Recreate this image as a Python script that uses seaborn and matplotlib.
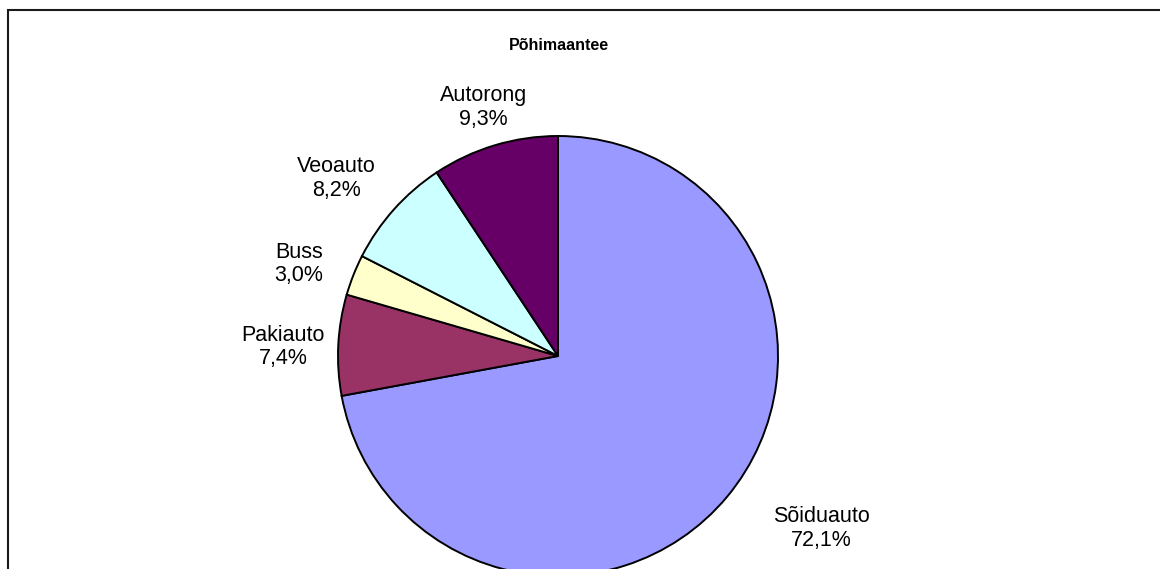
import numpy as np
import matplotlib
matplotlib.use("Agg")
import matplotlib.pyplot as plt
import matplotlib.patches as mpatches
import seaborn as sns

# Data
categories = ['Sõiduauto', 'Pakiauto', 'Buss', 'Veoauto', 'Autorong']
shares = [72.1, 7.4, 3.0, 8.2, 9.3]
colors = ['#9999FF', '#993366', '#FFFFCC', '#CCFFFF', '#660066']
title = 'Põhimaantee'

# label placement (radius units, angle nudge in degrees)
label_dist = [1.43, 1.25, 1.25, 1.29, 1.18]
label_nudge = [6.5, 1, 2, 3, 0]

sns.set_theme(style='white')
plt.rcParams['font.family'] = ['Liberation Sans', 'DejaVu Sans']
plt.rcParams['text.color'] = 'black'

W, H = 1160, 569
fig = plt.figure(figsize=(W / 100, H / 100), dpi=100)
fig.patch.set_facecolor('white')

# pie box: centre (558, 356) px, radius 220 px
cx, cy, r = 558, 356, 220
ax = fig.add_axes([(cx - r) / W, (H - cy - r) / H, 2 * r / W, 2 * r / H])

wedges, _ = ax.pie(shares, colors=colors, startangle=90, counterclock=False,
                   wedgeprops=dict(edgecolor='black', linewidth=1.4))
ax.set_xlim(-1, 1)
ax.set_ylim(-1, 1)
ax.set_aspect('auto')
ax.axis('off')

for w, name, val, d, nudge in zip(wedges, categories, shares, label_dist, label_nudge):
    ang = np.deg2rad((w.theta1 + w.theta2) / 2 + nudge)
    txt = f"{name}\n{val:.1f}%".replace('.', ',')
    ax.text(d * np.cos(ang), d * np.sin(ang), txt, ha='center', va='center',
            fontsize=15.5, linespacing=1.15, color='black', clip_on=False)

fig.text(559 / W, 1 - 46 / H, title, ha='center', va='center',
         fontsize=11.5, fontweight='bold', color='black')

# chart area border (cut off at right and bottom)
fig.patches.append(mpatches.Rectangle((8 / W, -1), 2, 1 + (H - 10) / H, fill=False,
                                      edgecolor='#1a1a1a', linewidth=1.5,
                                      transform=fig.transFigure, figure=fig))

fig.savefig('out.png', dpi=100)
